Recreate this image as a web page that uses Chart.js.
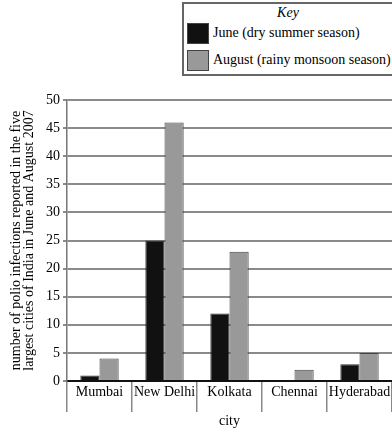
<!DOCTYPE html>
<html><head><meta charset="utf-8">
<script src="https://cdn.jsdelivr.net/npm/chart.js@4/dist/chart.umd.min.js"></script>
<style>
html,body{margin:0;padding:0;background:#fff;}
#wrap{position:relative;width:392px;height:433px;}
#key{position:absolute;left:182px;top:2px;width:212px;height:74px;border:2px solid #666;box-sizing:border-box;font-family:"Liberation Serif",serif;font-size:14px;color:#000;background:#fff;}
#key .t{text-align:center;font-style:italic;margin-top:1px;line-height:15px;}
#key .r{position:absolute;left:3px;height:22px;display:flex;align-items:center;white-space:nowrap;}
#key .s{width:22px;height:21px;box-sizing:border-box;border:1px solid #444;margin-right:4px;}
</style></head>
<body><div id="wrap"><canvas id="c" width="392" height="433"></canvas>
<div id="key"><div class="t">Key</div>
<div class="r" style="top:18px"><div class="s" id="s0"></div><span id="l0"></span></div>
<div class="r" style="top:45px"><div class="s" id="s1"></div><span id="l1"></span></div>
</div></div>
<script>
const cities = ["Mumbai","New Delhi","Kolkata","Chennai","Hyderabad"];
const juneValues = [1,25,12,0,3];
const augustValues = [4,46,23,2,5];
const seriesNames = ["June (dry summer season)","August (rainy monsoon season)"];
const yTitle = ["number of polio infections reported in the five","largest cities of India in June and August 2007"];
const xTitle = "city";
const colors = ["#111111","#999999"];

document.getElementById('s0').style.background = colors[0];
document.getElementById('s1').style.background = colors[1];
document.getElementById('l0').textContent = seriesNames[0];
document.getElementById('l1').textContent = seriesNames[1];

const font = "'Liberation Serif', serif";
new Chart(document.getElementById('c'), {
  type:'bar',
  data:{labels:cities, datasets:[
    {label:seriesNames[0], data:juneValues, backgroundColor:colors[0], borderColor:"#333", borderWidth:1, categoryPercentage:0.59, barPercentage:1},
    {label:seriesNames[1], data:augustValues, backgroundColor:colors[1], borderColor:"#444", borderWidth:1, categoryPercentage:0.59, barPercentage:1}
  ]},
  options:{
    responsive:false, animation:false,
    layout:{padding:{top:100,right:0,left:0,bottom:0}},
    plugins:{legend:{display:false}, tooltip:{enabled:false}},
    scales:{
      x:{
        grid:{offset:true, color:"#888", lineWidth:1.5, tickLength:31, drawOnChartArea:false},
        border:{color:"#111", width:2},
        ticks:{font:{family:font,size:14}, color:"#000", padding:-28, maxRotation:0, minRotation:0, autoSkip:false},
        title:{display:true, text:xTitle, font:{family:font,size:14}, color:"#000", padding:{top:0,bottom:3}},
        afterFit:s=>{s.height=52;}
      },
      y:{
        min:0,max:50,
        ticks:{stepSize:5, font:{family:font,size:14}, color:"#000", padding:3},
        grid:{color:"#8a8a8a", lineWidth:2, tickLength:4},
        border:{color:"#777", width:1.5},
        title:{display:true, text:yTitle, font:{family:font,size:14,lineHeight:0.9}, color:"#000", padding:{top:10,bottom:0}},
        afterFit:s=>{s.width=67;}
      }
    }
  }
});
</script></body></html>
